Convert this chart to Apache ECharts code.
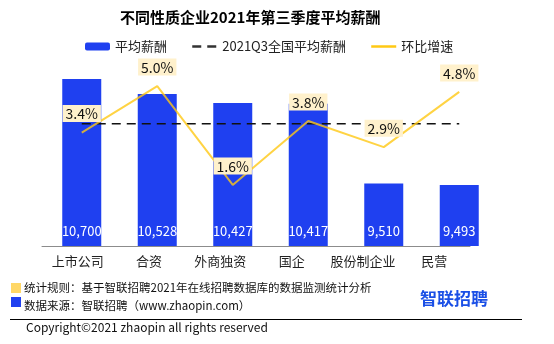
<!DOCTYPE html>
<html><head><meta charset="utf-8">
<script src="https://cdn.jsdelivr.net/npm/echarts@6/dist/echarts.min.js"></script>
<style>html,body{margin:0;padding:0;background:#fff}#c{width:554px;height:344px}</style>
</head><body><div id="c"></div>
<script>
const categories = ['上市公司','合资','外商独资','国企','股份制企业','民营'];
const salary = [10700, 10528, 10427, 10417, 9510, 9493];
const nationalAvg = [10190, 10190, 10190, 10190, 10190, 10190];
const growth = [3.4, 5.0, 1.6, 3.8, 2.9, 4.8];
const seriesNames = ['平均薪酬','2021Q3全国平均薪酬','环比增速'];
const titleText = '不同性质企业2021年第三季度平均薪酬';

const FONT = '"Noto Sans CJK SC", "Microsoft YaHei", sans-serif';
const chart = echarts.init(document.getElementById('c'), null, {renderer:'canvas'});
chart.setOption({
  animation: false,
  textStyle: {fontFamily: FONT},
  title: {text: titleText, left: 115, top: 5,
    textStyle: {fontFamily: FONT, fontSize: 15, fontWeight: 'bold', color: '#000'}},
  legend: {left: 80, top: 35, itemWidth: 25, itemHeight: 8, itemGap: 24,
    textStyle: {fontFamily: FONT, fontSize: 13, color: '#222'},
    data: [
      {name: seriesNames[0]},
      {name: seriesNames[1], itemStyle: {opacity: 0}, lineStyle: {width: 2.5, color: '#333'}},
      {name: seriesNames[2], itemStyle: {opacity: 0}, lineStyle: {width: 2.5, color: '#ffc914'}}
    ]},
  grid: [
    {left: 42, right: 84, top: 57, bottom: 98},
    {left: 44, right: 57, top: 57, bottom: 98}
  ],
  xAxis: [
    {type: 'category', gridIndex: 0, data: categories,
      axisLine: {onZero: false, lineStyle: {color: '#8c8c8c'}},
      axisTick: {length: 6, lineStyle: {color: '#8c8c8c'}},
      axisLabel: {fontFamily: FONT, fontSize: 13, color: '#222', margin: 9, interval: 0}},
    {type: 'category', gridIndex: 1, data: categories, show: false}
  ],
  yAxis: [
    {type: 'value', gridIndex: 0, show: false, min: 8800, max: 10950, splitLine: {show: false}},
    {type: 'value', gridIndex: 1, show: false, min: 8800, max: 10950, splitLine: {show: false}},
    {type: 'value', gridIndex: 1, show: false, min: -0.5, max: 6.0, splitLine: {show: false}}
  ],
  series: [
    {name: seriesNames[0], type: 'bar', xAxisIndex: 1, yAxisIndex: 1, data: salary,
      barWidth: 39, itemStyle: {color: '#1f40f0'},
      label: {show: true, position: 'insideBottom', distance: 8, color: '#fff',
        fontFamily: FONT, fontSize: 13,
        formatter: p => p.value.toLocaleString('en-US')}},
    {name: seriesNames[2], type: 'line', xAxisIndex: 1, yAxisIndex: 2, data: growth,
      symbol: 'circle', symbolSize: 1, showSymbol: true, z: 3,
      lineStyle: {color: 'rgba(255,200,20,0.8)', width: 2},
      itemStyle: {color: 'rgba(255,200,20,0)'},
      label: {show: true, position: 'top', distance: 10, color: '#111',
        fontFamily: FONT, fontSize: 14, backgroundColor: '#fff1cc', padding: [2, 3, 1, 3],
        formatter: p => p.value.toFixed(1) + '%'}},
    {name: seriesNames[1], type: 'line', xAxisIndex: 1, yAxisIndex: 1, data: nationalAvg,
      symbol: 'none', z: 2,
      lineStyle: {color: '#111', width: 1.5, type: [9, 6]},
      itemStyle: {color: '#111'}}
  ],
  graphic: [
    {type: 'rect', left: 11, top: 283, shape: {width: 10, height: 10}, style: {fill: '#ffd766'}},
    {type: 'text', left: 24, top: 282, style: {text: '统计规则：基于智联招聘2021年在线招聘数据库的数据监测统计分析',
      fill: '#111', font: '11.5px ' + FONT}},
    {type: 'rect', left: 11, top: 297, shape: {width: 10, height: 10}, style: {fill: '#1f40f0'}},
    {type: 'text', left: 24, top: 300, style: {text: '数据来源：智联招聘（www.zhaopin.com）',
      fill: '#111', font: '11.5px ' + FONT}},
    {type: 'text', left: 420, top: 290, style: {text: '智联招聘', fill: '#1a4fe6',
      font: 'bold 17px ' + FONT}},
    {type: 'line', shape: {x1: 10, y1: 319.5, x2: 522, y2: 319.5}, style: {stroke: '#000', lineWidth: 1}},
    {type: 'text', left: 26, top: 321, style: {text: 'Copyright©2021 zhaopin all rights reserved',
      fill: '#111', font: '12px ' + FONT}}
  ]
});
</script></body></html>
